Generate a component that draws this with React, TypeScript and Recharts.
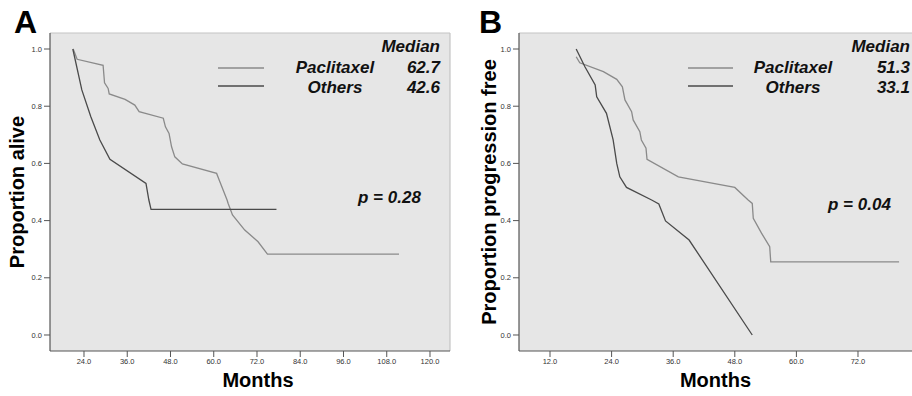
import {
  LineChart,
  Line,
  XAxis,
  YAxis,
  CartesianGrid,
  ReferenceLine,
  Legend,
} from "recharts";

// Panel A - overall survival
const osPaclitaxelMonths = [21.0, 22.1, 29.3, 29.7, 30.7, 31.0, 35.4, 38.1, 39.3, 46.0, 46.6, 47.6, 48.3, 49.2, 51.3, 60.8, 61.7, 63.7, 64.0, 65.2, 68.6, 72.3, 74.9, 111.4];
const osPaclitaxelProp = [1.0, 0.964, 0.943, 0.882, 0.862, 0.843, 0.824, 0.804, 0.781, 0.758, 0.728, 0.705, 0.658, 0.623, 0.598, 0.565, 0.536, 0.472, 0.46, 0.42, 0.367, 0.326, 0.283, 0.283];
const osOthersMonths = [20.9, 23.4, 25.9, 28.4, 31.2, 41.2, 42.0, 42.6, 77.4];
const osOthersProp = [1.0, 0.857, 0.763, 0.682, 0.614, 0.53, 0.472, 0.439, 0.439];

// Panel B - progression free survival
const pfsPaclitaxelMonths = [17.1, 17.8, 22.4, 25.0, 26.1, 26.6, 27.9, 28.2, 29.5, 29.8, 30.7, 30.9, 37.0, 48.0, 50.6, 51.4, 51.6, 53.2, 54.8, 55.0, 80.0];
const pfsPaclitaxelProp = [0.973, 0.952, 0.921, 0.894, 0.868, 0.822, 0.781, 0.752, 0.711, 0.682, 0.653, 0.614, 0.553, 0.516, 0.472, 0.46, 0.408, 0.356, 0.309, 0.256, 0.256];
const pfsOthersMonths = [17.1, 18.8, 20.8, 21.1, 23.0, 24.3, 25.0, 25.6, 26.9, 31.8, 33.2, 34.5, 39.1, 51.4];
const pfsOthersProp = [1.0, 0.938, 0.874, 0.833, 0.775, 0.682, 0.6, 0.553, 0.516, 0.472, 0.458, 0.399, 0.332, 0.0];

const monthTicksA = [24, 36, 48, 60, 72, 84, 96, 108, 120];
const monthTicksB = [12, 24, 36, 48, 60, 72];
const propTicks = [0, 0.2, 0.4, 0.6, 0.8, 1.0];

const mediansA = ["62.7", "42.6"];
const mediansB = ["51.3", "33.1"];
const groups = ["Paclitaxel", "Others"];

const LIGHT = "#8a8a8a";
const DARK = "#4a4a4a";
const BG = "#e6e6e6";
const FONT = "'Liberation Sans', Arial, sans-serif";

const zip = (xs: number[], ys: number[]) => xs.map((x, i) => ({ x, y: ys[i] }));

type Annot = {
  letter: string;
  letterX: number;
  rightX: number;
  lineX: [number, number];
  nameX: number;
  medians: string[];
  p: string;
  pX: number;
  pY: number;
};

function Annotations({ a, w }: { a: Annot; w: number }) {
  const txt = { fontFamily: FONT, fontWeight: "bold", fontStyle: "italic", fontSize: 17, fill: "#111" } as const;
  return (
    <svg width={w} height={396} style={{ display: "block" }}>
      <text x={a.letterX} y={33} fontFamily={FONT} fontWeight="bold" fontSize={32} fill="#000">
        {a.letter}
      </text>
      <text {...txt} x={a.rightX} y={52} textAnchor="end">Median</text>
      {groups.map((g, i) => (
        <g key={g}>
          <line x1={a.lineX[0]} x2={a.lineX[1]} y1={68 + i * 18} y2={68 + i * 18} stroke={i === 0 ? LIGHT : DARK} strokeWidth={1.6} />
          <text {...txt} x={a.nameX} y={73 + i * 20} textAnchor="middle">{g}</text>
          <text {...txt} x={a.rightX} y={73 + i * 20} textAnchor="end">{a.medians[i]}</text>
        </g>
      ))}
      <text {...txt} x={a.pX} y={a.pY}>{a.p}</text>
    </svg>
  );
}

function Panel(props: {
  width: number;
  yWidth: number;
  xDomain: [number, number];
  xTicks: number[];
  yLabel: string;
  yLabelOffset: number;
  monthsDx: number;
  paclitaxel: { x: number; y: number }[];
  others: { x: number; y: number }[];
  annot: Annot;
  rightBorder: boolean;
}) {
  const { width, yWidth, xDomain, xTicks, annot } = props;
  return (
    <LineChart width={width} height={396} margin={{ top: 33, right: width === 460 ? 10 : 0, bottom: 0, left: 0 }}>
      <CartesianGrid fill={BG} horizontal={false} vertical={false} stroke="none" />
      <XAxis
        type="number"
        dataKey="x"
        domain={xDomain}
        ticks={xTicks}
        allowDataOverflow
        height={45}
        tickSize={6}
        tickFormatter={(v: number) => v.toFixed(1)}
        tick={{ fontSize: 7.5, fill: "#333", fontFamily: FONT }}
        axisLine={{ stroke: "#555", strokeWidth: 1.2 }}
        tickLine={{ stroke: "#555" }}
        label={{
          value: "Months",
          position: "insideBottom",
          offset: 9,
          dx: props.monthsDx,
          style: { fontSize: 20, fontWeight: "bold", fill: "#000", fontFamily: FONT },
        }}
      />
      <YAxis
        type="number"
        domain={[-0.056, 1.056]}
        ticks={propTicks}
        allowDataOverflow
        width={yWidth}
        tickSize={6}
        tickFormatter={(v: number) => v.toFixed(1)}
        tick={{ fontSize: 7.5, fill: "#333", fontFamily: FONT }}
        axisLine={{ stroke: "#555", strokeWidth: 1.2 }}
        tickLine={{ stroke: "#555" }}
        label={{
          value: props.yLabel,
          angle: -90,
          position: "insideLeft",
          offset: props.yLabelOffset,
          style: { textAnchor: "middle", fontSize: 20, fontWeight: "bold", fill: "#000", fontFamily: FONT },
        }}
      />
      <ReferenceLine y={1.056} stroke="#c4c4c4" strokeWidth={1.2} ifOverflow="visible" />
      {props.rightBorder && (
        <ReferenceLine x={xDomain[1]} stroke="#c4c4c4" strokeWidth={1.2} ifOverflow="visible" />
      )}
      <Line data={props.paclitaxel} dataKey="y" type="linear" stroke={LIGHT} strokeWidth={1.3} dot={false} isAnimationActive={false} />
      <Line data={props.others} dataKey="y" type="linear" stroke={DARK} strokeWidth={1.3} dot={false} isAnimationActive={false} />
      <Legend
        layout="horizontal"
        verticalAlign="middle"
        align="center"
        wrapperStyle={{ left: 0, top: 0, width, height: 396, pointerEvents: "none" }}
        content={() => <Annotations a={annot} w={width} />}
      />
    </LineChart>
  );
}

export default function App() {
  return (
    <div style={{ position: "absolute", left: 0, top: 0, width: 912, height: 396, background: "#fff", overflow: "hidden" }}>
      <div style={{ position: "absolute", left: 0, top: 0 }}>
        <Panel
          width={460}
          yWidth={50}
          xDomain={[14.57, 125.55]}
          xTicks={monthTicksA}
          yLabel="Proportion alive"
          yLabelOffset={17}
          monthsDx={8}
          paclitaxel={zip(osPaclitaxelMonths, osPaclitaxelProp)}
          others={zip(osOthersMonths, osOthersProp)}
          rightBorder
          annot={{
            letter: "A",
            letterX: 14,
            rightX: 440,
            lineX: [218, 264],
            nameX: 335,
            medians: mediansA,
            p: "p = 0.28",
            pX: 358,
            pY: 203,
          }}
        />
      </div>
      <div style={{ position: "absolute", left: 460, top: 0 }}>
        <Panel
          width={452}
          yWidth={59}
          xDomain={[5.96, 82.52]}
          xTicks={monthTicksB}
          yLabel="Proportion progression free"
          yLabelOffset={29}
          monthsDx={0}
          paclitaxel={zip(pfsPaclitaxelMonths, pfsPaclitaxelProp)}
          others={zip(pfsOthersMonths, pfsOthersProp)}
          rightBorder={false}
          annot={{
            letter: "B",
            letterX: 19,
            rightX: 450,
            lineX: [228, 273],
            nameX: 333,
            medians: mediansB,
            p: "p = 0.04",
            pX: 368,
            pY: 210,
          }}
        />
      </div>
    </div>
  );
}
